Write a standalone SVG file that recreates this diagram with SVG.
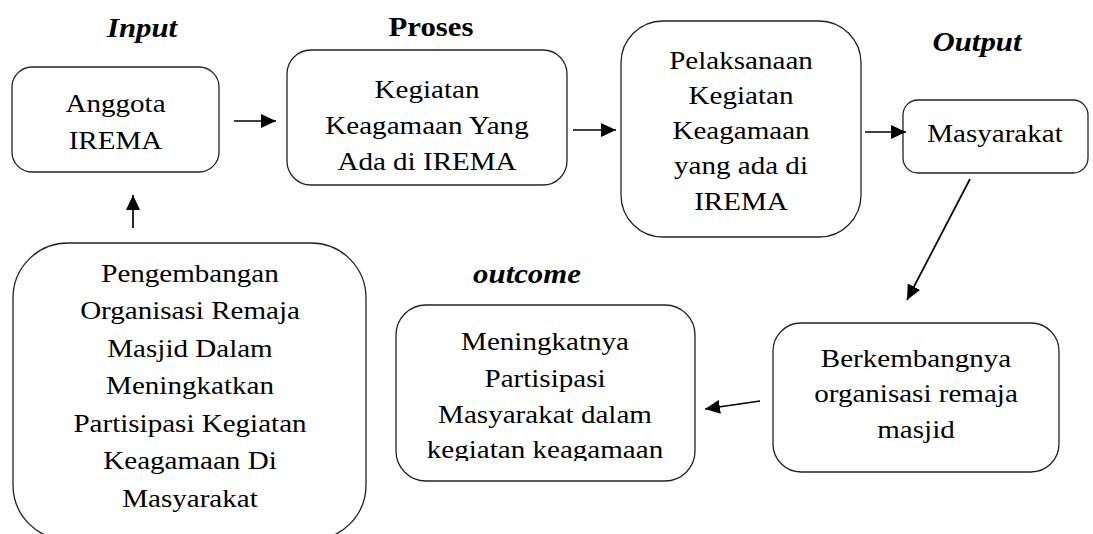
<svg xmlns="http://www.w3.org/2000/svg" width="1093" height="534" viewBox="0 0 1093 534">
<style>
.box{fill:#fff;stroke:#222;stroke-width:1.3}
.t{font-family:"Liberation Serif","Times New Roman",serif;font-size:25.5px;fill:#000;text-anchor:middle}
.h{font-family:"Liberation Serif","Times New Roman",serif;font-size:27.5px;font-weight:bold;fill:#000;text-anchor:middle}
.i{font-style:italic}
.c{fill:none;stroke:#000;stroke-width:1.7;marker-end:url(#ah)}
</style>
<defs>
<marker id="ah" markerUnits="userSpaceOnUse" markerWidth="16" markerHeight="14" refX="15" refY="7" orient="auto">
<path d="M0,0 L15,7 L0,14 z" fill="#000"/>
</marker>
<clipPath id="clipBL"><rect x="-200" y="243" width="400" height="271"/></clipPath>
<clipPath id="clipMen"><rect x="-200" y="305" width="400" height="156"/></clipPath>
</defs>
<rect width="1093" height="534" fill="#fff"/>

<g id="labels">
<text class="h i" transform="translate(142,0) scale(1.12,1)" x="0" y="37">Input</text>
<text class="h" transform="translate(431,0) scale(1.12,1)" x="0" y="36">Proses</text>
<text class="h i" transform="translate(977,0) scale(1.12,1)" x="0" y="51">Output</text>
<text class="h i" transform="translate(527,0) scale(1.12,1)" x="0" y="283">outcome</text>
</g>

<g id="node-anggota">
<rect class="box" x="12" y="67" width="207" height="105" rx="20"/>
<g transform="translate(115.5,0) scale(1.14,1)">
<text class="t" x="0" y="112">Anggota</text>
<text class="t" x="0" y="149">IREMA</text>
</g>
</g>

<g id="node-kegiatan">
<rect class="box" x="287" y="50" width="280" height="135" rx="24"/>
<g transform="translate(427,0) scale(1.14,1)">
<text class="t" x="0" y="98">Kegiatan</text>
<text class="t" x="0" y="134">Keagamaan Yang</text>
<text class="t" x="0" y="170">Ada di IREMA</text>
</g>
</g>

<g id="node-pelaksanaan">
<rect class="box" x="621" y="21" width="240" height="216" rx="42"/>
<g transform="translate(741,0) scale(1.14,1)">
<text class="t" x="0" y="69">Pelaksanaan</text>
<text class="t" x="0" y="104">Kegiatan</text>
<text class="t" x="0" y="139">Keagamaan</text>
<text class="t" x="0" y="174">yang ada di</text>
<text class="t" x="0" y="210">IREMA</text>
</g>
</g>

<g id="node-masyarakat">
<rect class="box" x="903" y="100" width="185" height="73" rx="15"/>
<g transform="translate(995,0) scale(1.14,1)">
<text class="t" x="0" y="142">Masyarakat</text>
</g>
</g>

<g id="node-pengembangan">
<rect class="box" x="13" y="243" width="353" height="297" rx="55"/>
<g transform="translate(190,0) scale(1.14,1)">
<g clip-path="url(#clipBL)">
<text class="t" x="0" y="282">Pengembangan</text>
<text class="t" x="0" y="319.5">Organisasi Remaja</text>
<text class="t" x="0" y="357">Masjid Dalam</text>
<text class="t" x="0" y="394.5">Meningkatkan</text>
<text class="t" x="0" y="432">Partisipasi Kegiatan</text>
<text class="t" x="0" y="469.5">Keagamaan Di</text>
<text class="t" x="0" y="507">Masyarakat</text>
</g>
</g>
</g>

<g id="node-meningkatnya">
<rect class="box" x="396" y="305" width="299" height="176" rx="30"/>
<g transform="translate(545,0) scale(1.14,1)">
<g clip-path="url(#clipMen)">
<text class="t" x="0" y="350">Meningkatnya</text>
<text class="t" x="0" y="387">Partisipasi</text>
<text class="t" x="0" y="423">Masyarakat dalam</text>
<text class="t" x="0" y="458">kegiatan keagamaan</text>
</g>
</g>
</g>

<g id="node-berkembangnya">
<rect class="box" x="773" y="323" width="286" height="149" rx="28"/>
<g transform="translate(916,0) scale(1.14,1)">
<text class="t" x="0" y="367">Berkembangnya</text>
<text class="t" x="0" y="402">organisasi remaja</text>
<text class="t" x="0" y="438">masjid</text>
</g>
</g>

<g id="connectors">
<line class="c" x1="234" y1="121" x2="276" y2="121"/>
<line class="c" x1="573" y1="130" x2="616" y2="130"/>
<line class="c" x1="865" y1="132" x2="906" y2="132"/>
<line class="c" x1="133" y1="228" x2="133" y2="195"/>
<line class="c" x1="970" y1="179" x2="907" y2="300"/>
<line class="c" x1="760" y1="401" x2="705" y2="409"/>
</g>
</svg>
